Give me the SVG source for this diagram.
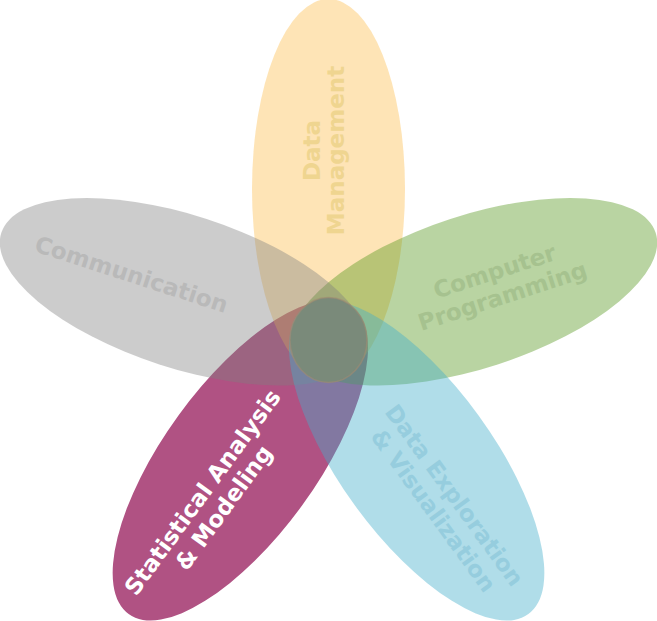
<svg xmlns="http://www.w3.org/2000/svg" width="657" height="621" viewBox="0 0 657 621">
<style>
text{font-family:"DejaVu Sans","Verdana",sans-serif;font-weight:bold;font-size:23px;text-anchor:middle}
.petal{stroke:none}
</style>
<rect width="657" height="621" fill="#ffffff"/>
<g id="statistical-analysis">
<ellipse class="petal" cx="0" cy="-150" rx="76.5" ry="190" fill="#b05283" transform="translate(328.5,339) rotate(216)"/>
<text fill="#ffffff" transform="translate(209,497) rotate(-54)"><tspan x="0" y="0">Statistical Analysis</tspan><tspan x="0" y="26">&amp; Modeling</tspan></text>
</g>
<g id="data-management">
<ellipse class="petal" cx="0" cy="-150" rx="76.5" ry="190" fill="#fdbb48" fill-opacity="0.4" transform="translate(328.5,339)"/>
<text fill="#efd590" transform="translate(319.5,150.5) rotate(-90)"><tspan x="0" y="0">Data</tspan><tspan x="0" y="24">Management</tspan></text>
</g>
<g id="computer-programming">
<ellipse class="petal" cx="0" cy="-153" rx="76.5" ry="191" fill="#509316" fill-opacity="0.4" transform="translate(328.5,339) rotate(72)"/>
<text fill="#a6c28f" transform="translate(497,279) rotate(-18)"><tspan x="0" y="0">Computer</tspan><tspan x="0" y="26">Programming</tspan></text>
</g>
<g id="communication">
<ellipse class="petal" cx="0" cy="-153" rx="76.5" ry="191" fill="#808080" fill-opacity="0.4" transform="translate(328.5,339) rotate(288)"/>
<text fill="#b9b9b9" transform="translate(129,282) rotate(18)">Communication</text>
</g>
<g id="data-exploration">
<ellipse class="petal" cx="0" cy="-150" rx="76.5" ry="190" fill="#43aecb" fill-opacity="0.42" transform="translate(328.5,339) rotate(144)"/>
<text fill="#96cdde" transform="translate(448,500) rotate(54)"><tspan x="0" y="0">Data Exploration</tspan><tspan x="0" y="26">&amp; Visualization</tspan></text>
</g>
<g id="center">
<ellipse cx="328.5" cy="340" rx="38.5" ry="42.5" fill="#7a8a7a" stroke="#a08a72" stroke-opacity="0.6" stroke-width="1.5"/>
</g>
</svg>
